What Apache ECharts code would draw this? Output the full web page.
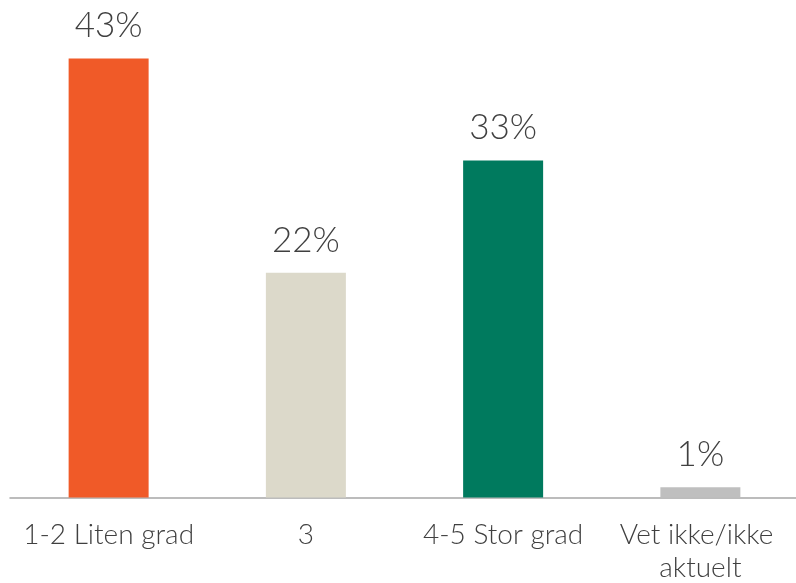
<!DOCTYPE html>
<html>
<head>
<meta charset="utf-8">
<script src="https://cdn.jsdelivr.net/npm/echarts@6/dist/echarts.min.js"></script>
<style>
html,body{margin:0;padding:0;background:#fff;}
#chart{width:796px;height:583px;}
</style>
</head>
<body>
<div id="chart"></div>
<script>
const categories = ["1-2 Liten grad", "3", "4-5 Stor grad", "Vet ikke/ikke aktuelt"];
const values = [43, 22, 33, 1];
const colors = ["#F05A28", "#DCD9CA", "#007A5E", "#BFBFBF"];

const chart = echarts.init(document.getElementById('chart'));
chart.setOption({
  animation: false,
  grid: { left: 10, right: -3, top: 38, bottom: 85.5, outerBoundsMode: 'none', containLabel: false },
  xAxis: {
    type: 'category',
    data: categories,
    axisLine: { show: true, lineStyle: { color: '#A6A6A6', width: 1.5 } },
    axisTick: { show: false },
    axisLabel: {
      interval: 0,
      hideOverlap: false,
      color: '#404040',
      fontFamily: 'Lato, sans-serif',
      fontWeight: 300,
      fontSize: 28,
      lineHeight: 33,
      margin: 21,
      width: 196,
      overflow: 'break'
    }
  },
  yAxis: {
    type: 'value',
    min: 0, max: 45,
    show: false,
    splitLine: { show: false }
  },
  series: [{
    type: 'bar',
    barWidth: 80,
    data: values.map((v, i) => ({ value: v, itemStyle: { color: colors[i] } })),
    label: {
      show: true,
      position: 'top',
      distance: 15,
      formatter: '{c}%',
      color: '#404040',
      fontFamily: 'Lato, sans-serif',
      fontWeight: 300,
      fontSize: 35
    }
  }]
});
</script>
</body>
</html>
